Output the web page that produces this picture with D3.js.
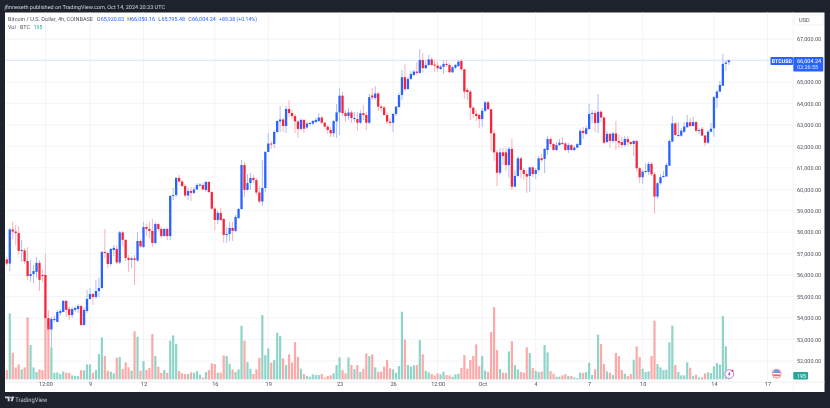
<!DOCTYPE html>
<html><head><meta charset="utf-8">
<script src="https://cdnjs.cloudflare.com/ajax/libs/d3/7.8.5/d3.min.js"></script>
<style>html,body{margin:0;padding:0;background:#1e222d}svg{display:block;filter:blur(0.3px)}text{font-family:Roboto,"Liberation Sans",sans-serif;text-rendering:geometricPrecision}</style>
</head><body><svg id="c" width="830" height="408"></svg>
<script>
const opens=[56730,56540,58130,58030,57960,57130,57150,56660,55960,56050,56150,56570,56010,56010,54000,53470,53910,53820,54240,54280,54800,54420,54140,54380,54420,54560,53680,54330,54890,55120,54980,55260,55400,57080,57030,56520,57170,57220,56590,57990,57640,56800,56710,56780,56680,57590,57310,58240,58150,58060,57500,58380,58150,57820,58150,57820,59690,59730,60530,60360,60150,59710,59920,59830,59990,60170,60200,59970,60340,59870,59100,58570,58900,58620,57870,57920,58200,58060,58660,59080,61130,59970,60290,60530,60430,59850,59430,60060,61740,62130,62110,62670,63160,63250,62950,63740,63550,63410,63160,62810,63230,62880,63040,63060,63130,63180,63340,63100,62920,62760,62610,63160,63580,64360,63550,63410,63580,63270,63270,63100,63540,63460,63100,64370,64250,64460,63850,63810,63460,63150,63100,63510,63830,64390,65220,64670,65140,65320,65480,65420,66020,65640,65790,66050,65810,65760,65600,65700,65840,65790,65450,65660,65740,65980,65590,64630,64550,63800,63510,63460,63270,63660,64050,63730,62610,61720,60770,61720,61720,61130,61880,60120,60620,61440,60900,60710,60620,61020,60710,60900,61440,61410,61830,62340,62110,61830,62060,62160,62130,61830,62060,61830,61940,62060,62720,62580,62810,63510,63550,63090,63610,63340,62200,62580,62250,62600,62250,62200,62060,62340,62200,62110,62250,60980,60560,60810,60810,61180,60700,59660,60280,60570,60600,61100,62220,63070,62480,62500,62680,62890,63120,62950,63130,62720,62810,62500,62170,62680,62840,64250,64550,64820,65840,65920.83];
const highs=[56850,58200,58500,58340,58290,57640,57270,57310,56710,56470,56850,56710,56240,56990,54380,54050,54100,54380,54420,54840,54840,54520,54520,54560,54660,54610,54520,55310,55400,55170,55780,55870,57130,58150,57080,57270,57400,57400,58060,58060,57680,56940,56850,56940,58010,57680,58480,58380,58480,58620,58480,58430,58240,58200,58200,59730,60060,60570,60670,60430,60250,60060,60110,60110,60290,60290,60290,60390,60390,59920,59170,58990,59130,58660,58240,58480,58480,58800,59130,61360,61270,60710,60760,60670,60530,60150,61360,61780,62620,62250,62760,63230,63880,63320,63880,64140,63690,63510,63230,63320,63270,63130,63130,63230,63320,63550,63410,63130,62990,62900,63230,63970,64720,64530,63690,63790,63690,63600,63600,63690,63930,63600,64440,64720,64810,64530,63930,63880,63600,63320,63550,63880,64490,65560,65840,65230,65510,65560,65930,66530,66350,66020,66260,66160,66020,65930,65790,66020,66020,65880,65740,65840,66020,66070,65600,64720,64630,63880,63690,63550,63790,64110,64110,63740,62760,61830,61920,61920,61920,61970,62360,60900,61550,61500,60990,60900,61040,61090,60990,61550,61640,61920,62480,62440,62160,62200,62340,62440,62200,62160,62110,62020,62160,62810,62900,62950,63970,63690,63690,64440,63690,63410,62720,62620,62670,63180,62530,62440,62480,62480,62250,62300,62300,61040,60900,61220,61270,61270,60810,60340,60710,60850,61220,62340,63410,63130,63130,62860,63130,63460,63320,63370,63180,62860,62900,62530,62760,63090,64350,64630,65040,66300,66020,66050.16];
const lows=[56430,56190,57680,57400,56940,56610,56520,55780,55700,55630,55870,55260,55680,53450,53210,52610,53820,53820,54100,54280,54050,53910,54000,54280,54240,53630,53630,54240,54840,54610,54890,54980,55360,56800,56330,56430,56890,56520,56520,57360,56660,56150,56330,55540,56610,57270,57270,57820,57730,57310,57450,58060,57730,57780,57640,57640,59500,59640,60290,60110,59640,59500,59450,59780,59970,60110,59970,59870,59830,59040,58100,58380,58520,57500,57500,57590,57590,58010,58620,59040,59640,59920,59970,60290,59730,59360,59220,59870,61740,61880,61920,62620,62670,62670,62620,63370,63270,62620,62390,62720,62620,62810,62950,62990,63090,63130,63040,62810,62580,62440,62440,62390,62530,63410,63130,63230,63090,63130,62720,63040,63230,62760,63040,64160,64160,63650,63600,63410,63040,62950,62670,63410,63790,64160,64580,64630,65090,65280,65320,65370,65420,65600,65740,65740,65460,65460,65560,65370,65700,65420,65420,65600,65700,65510,64210,64160,63230,63320,63180,62860,62900,63600,63690,61780,61320,60150,60670,61130,60850,60530,59970,60110,60570,60530,60430,59830,59870,60570,60480,60810,61270,60760,61600,61970,61780,61780,62020,62060,61780,61690,61780,61780,61920,62040,62340,62530,62760,63090,62670,62620,63130,62110,62160,61920,62160,61830,61920,61920,61970,62020,62020,61550,60810,60290,60250,60760,60670,60620,58860,59550,60200,60530,60570,61090,62200,62480,62440,62440,62620,62860,62900,62900,62670,62580,62480,62020,62110,62670,62440,63790,64530,64810,65510,65795.48];
const closes=[56540,58130,58030,57960,57130,57170,56640,55960,56050,56190,56570,55780,55960,54000,53470,53960,53960,54280,54330,54800,54380,54140,54420,54470,54560,53680,54380,54890,55120,54980,55260,55400,57080,57030,56520,57220,57270,56590,57990,57640,56800,56710,56780,56710,57590,57340,58240,58150,58060,57500,58380,58150,57820,58150,57820,59690,59730,60530,60360,60150,59710,59920,59830,59990,60200,60220,59990,60340,59870,59100,58570,58900,58570,57870,57920,58200,58060,58710,59080,61130,59970,60290,60530,60430,59850,59430,60060,61740,62130,62090,62670,63180,63250,62950,63740,63550,63410,63160,62810,63230,62820,63060,63090,63180,63230,63340,63100,62920,62760,62610,63180,63580,64360,63550,63410,63580,63320,63320,63100,63540,63460,63100,64290,64280,64460,63850,63790,63460,63150,63090,63510,63850,64390,65220,64660,65140,65370,65480,65420,66020,65640,65790,66050,65790,65760,65640,65710,65840,65790,65450,65680,65790,65940,65590,64550,64530,63800,63510,63410,63270,63660,64050,63730,62610,61720,60770,61720,61550,61130,61880,60120,60620,61440,60900,60710,60590,61020,60710,60900,61440,61360,61880,62340,62110,61830,62060,62170,62110,61830,62060,61830,61940,62100,62720,62620,62840,63510,63550,63090,63610,63340,62170,62580,62250,62600,62250,62170,62060,62340,62190,62110,62250,60980,60560,60820,60850,61180,60700,59660,60280,60560,60620,61130,62250,63070,62530,62530,62730,62920,63120,62950,63130,62720,62760,62500,62170,62680,62820,64290,64550,64860,65840,65900,66004.24];
const volumes=[420,2970,1200,540,675,450,540,2790,1545,540,330,450,420,2850,2700,1440,300,315,240,360,300,285,180,150,150,420,405,675,675,300,420,1140,1890,1050,390,345,270,975,1005,465,765,540,390,2160,1920,390,825,420,510,2040,1050,570,300,420,300,1740,1980,1590,375,270,240,240,315,300,375,210,90,330,420,720,690,300,300,1080,1050,705,450,330,450,2415,1740,780,480,240,450,975,2895,1095,1395,750,870,2100,1950,945,645,1125,765,1680,1005,480,240,150,120,225,195,195,240,90,150,180,270,645,990,420,270,990,645,465,645,330,465,1170,1050,1125,540,345,345,570,870,495,450,300,600,3045,1800,645,570,630,645,1770,1125,390,315,240,180,270,225,345,195,180,120,225,255,525,1095,480,870,1050,1575,600,1050,390,330,2130,3255,1320,465,300,300,1260,1725,645,450,330,300,1440,1185,510,390,330,360,1545,1215,375,255,120,120,180,240,150,150,90,60,300,285,330,750,195,450,2010,1590,690,360,300,195,1185,1050,420,255,150,240,885,1485,1005,480,330,360,1050,2640,690,540,420,435,1665,2415,645,330,180,180,765,525,150,210,90,90,270,315,285,585,735,660,2850,1485,195];
const priceTicks=[67000,66000,65000,64000,63000,62000,61000,60000,59000,58000,57000,56000,55000,54000,53000,52000];
const axisPriceLabels=[67000,65000,64000,63000,62000,61000,60000,59000,58000,57000,56000,55000,54000,53000,52000];
const timeTickBars=[13,28,46,70,88,112,130,145,160,178,196,214,238,256];
const timeTickLabels=["12:00","9","12","16","19","23","26","12:00","Oct","4","7","10","14","17"];
const headerText="jfinneseth published on TradingView.com, Oct 14, 2024 20:33 UTC";
const seriesTitle="Bitcoin / U.S. Dollar, 4h, COINBASE";
const ohlcLetters=["O","H","L","C"];
const ohlcValues=["65,920.83","66,050.16","65,795.48","66,004.24"];
const changeText="+89.38 (+0.14%)";

const UP="#2962ff",DOWN="#f7253a",VUP="#8fd4c8",VDOWN="#fca9a8",INK="#50535e";
const svg=d3.select("#c");
const fmt=d3.format(",.2f");
const x=d3.scaleLinear().domain([0,243]).range([6.8,728.8]);
const y=d3.scaleLinear().domain([52000,67000]).range([361,39]);
const vy=d3.scaleLinear().domain([0,3000]).range([379.4,312.7]);
const L=5,R=824.5,T=12.5,B=392,AX=793,TB=382;
const label=(px,py,size,fill,str,len)=>{const t=svg.append("text").attr("x",px).attr("y",py).attr("font-size",size).attr("fill",fill).text(str);
  if(len)t.attr("textLength",len).attr("lengthAdjust","spacingAndGlyphs");return t;};

svg.append("rect").attr("x",0).attr("y",0).attr("width",830).attr("height",408).attr("fill","#1e222d");
svg.append("rect").attr("x",L).attr("y",T).attr("width",R-L).attr("height",B-T).attr("fill","#fff");

// grid
svg.append("g").selectAll("line").data(priceTicks).join("line")
  .attr("x1",L).attr("x2",AX).attr("y1",d=>y(d)).attr("y2",d=>y(d)).attr("stroke","#f3f4f6").attr("stroke-width",1);
svg.append("g").selectAll("line").data(timeTickBars).join("line")
  .attr("x1",d=>x(d)).attr("x2",d=>x(d)).attr("y1",T).attr("y2",TB).attr("stroke","#f3f4f6").attr("stroke-width",1);
svg.append("line").attr("x1",L).attr("x2",R).attr("y1",TB).attr("y2",TB).attr("stroke","#eceef1");
svg.append("line").attr("x1",AX).attr("x2",AX).attr("y1",T).attr("y2",B).attr("stroke","#f3f4f6");

// last price line
svg.append("line").attr("x1",L).attr("x2",771).attr("y1",y(66004.24)).attr("y2",y(66004.24)).attr("stroke","#dfe7fd").attr("stroke-width",1.4);

// volumes
svg.append("g").selectAll("rect").data(volumes).join("rect")
  .attr("x",(d,i)=>x(i)-1.1).attr("width",2.2)
  .attr("y",d=>vy(d)).attr("height",d=>vy(0)-vy(d))
  .attr("fill",(d,i)=>closes[i]>=opens[i]?VUP:VDOWN);

// candles
const idx=d3.range(opens.length);
svg.append("g").selectAll("line").data(idx).join("line")
  .attr("x1",i=>x(i)).attr("x2",i=>x(i)).attr("y1",i=>y(highs[i])).attr("y2",i=>y(lows[i]))
  .attr("stroke",i=>closes[i]>=opens[i]?"#a9bffb":"#fbb0b7").attr("stroke-width",1);
svg.append("g").selectAll("rect").data(idx).join("rect")
  .attr("x",i=>x(i)-1.15).attr("width",2.3)
  .attr("y",i=>Math.min(y(opens[i]),y(closes[i])))
  .attr("height",i=>Math.max(1,Math.abs(y(opens[i])-y(closes[i]))))
  .attr("fill",i=>closes[i]>=opens[i]?UP:DOWN);

// axes
const yAxis=d3.axisRight(y).tickValues(axisPriceLabels).tickFormat(fmt).tickSize(0).tickPadding(0);
const gy=svg.append("g").attr("transform","translate(797,0)").call(yAxis);
gy.select(".domain").remove();
gy.selectAll("text").attr("font-size",5.5).attr("fill",INK).attr("font-family","Roboto");
const xAxis=d3.axisBottom(x).tickValues(timeTickBars).tickFormat((d,i)=>timeTickLabels[i]).tickSize(0).tickPadding(0);
const gx=svg.append("g").attr("transform","translate(0,382)").call(xAxis);
gx.select(".domain").remove();
gx.selectAll("text").attr("font-size",5.6).attr("fill",INK).attr("font-family","Roboto");

// header
label(4.5,8.6,5.5,"#d1d4dc",headerText,160.5);
label(8,20.9,5.5,INK,seriesTitle,85);
const ohlcX=[96.7,127.3,158.3,188.3], valX=[100.7,131,161.5,192], valW=[23.3,24,23.5,23.7];
ohlcLetters.forEach((s,i)=>{
  label(ohlcX[i],20.9,5.5,INK,s);
  label(valX[i],20.9,5.5,UP,ohlcValues[i],valW[i]);
});
label(219,20.9,5.5,UP,changeText,38);
label(8,28.8,5.5,INK,"Vol · BTC",22);
label(33.7,28.8,5.5,"#26a69a",volumes[volumes.length-1],8.6);

// USD box
svg.append("rect").attr("x",794.5).attr("y",15).attr("width",28.5).attr("height",10).attr("rx",1.5).attr("fill","#fff").attr("stroke","#eceef1").attr("stroke-width",.7);
label(799,22,5.6,INK,"USD");

// price labels
svg.append("rect").attr("x",770.5).attr("y",57).attr("width",22.5).attr("height",8).attr("rx",.8).attr("fill",UP);
label(771.8,63,5.3,"#fff","BTCUSD",20).attr("font-weight",700);
svg.append("rect").attr("x",793.3).attr("y",57).attr("width",30).attr("height",14.5).attr("rx",.8).attr("fill",UP);
label(797,63,5.5,"#fff",fmt(closes[closes.length-1]));
label(797,69.4,5.5,"#dbe5ff","03:26:55");

// volume label
svg.append("rect").attr("x",793.3).attr("y",372).attr("width",14.7).attr("height",7.6).attr("rx",.8).attr("fill","#26a69a");
label(797,378,5.4,"#fff",volumes[volumes.length-1]);

// icons
const bolt=svg.append("g").attr("transform","translate(729.3,374)");
bolt.append("circle").attr("r",4.4).attr("fill","#fff").attr("stroke","#b86fd0").attr("stroke-width",.9);
bolt.append("path").attr("d","M0.8,-2.8L-1.6,0.4L-0.2,0.4L-0.8,2.8L1.6,-0.4L0.2,-0.4Z").attr("fill","#a24cc4");
bolt.append("circle").attr("cx",3.1).attr("cy",-3.2).attr("r",1.1).attr("fill","#f23645");
const flag=svg.append("g").attr("transform","translate(776.7,373.7)");
flag.append("circle").attr("r",5).attr("fill","#fba9a8");
flag.append("path").attr("d","M-3.5,-0.6A3.5,3.5 0 0 1 3.5,-0.6Z").attr("fill","#6a9cf0");
flag.append("path").attr("d","M-3.5,-0.6H3.5V0.8H-3.5Z").attr("fill","#fff");
flag.append("path").attr("d","M-3.2,1.5H3.2").attr("stroke","#e53935").attr("stroke-width",.9);
flag.append("path").attr("d","M-2.2,2.8H2.2").attr("stroke","#fff").attr("stroke-width",.7);

// footer logo
svg.append("path").attr("d","M5,396.5H9.6V401.2H7.7V398.2H5ZM12.2,396.5 H14.2 L12.6,401.2 H10.6 Z").attr("fill","#d1d4dc");
svg.append("circle").attr("cx",10.9).attr("cy",397.4).attr("r",.85).attr("fill","#d1d4dc");
label(15.3,401.6,6.4,"#c6c9d1","TradingView",32);
</script></body></html>
